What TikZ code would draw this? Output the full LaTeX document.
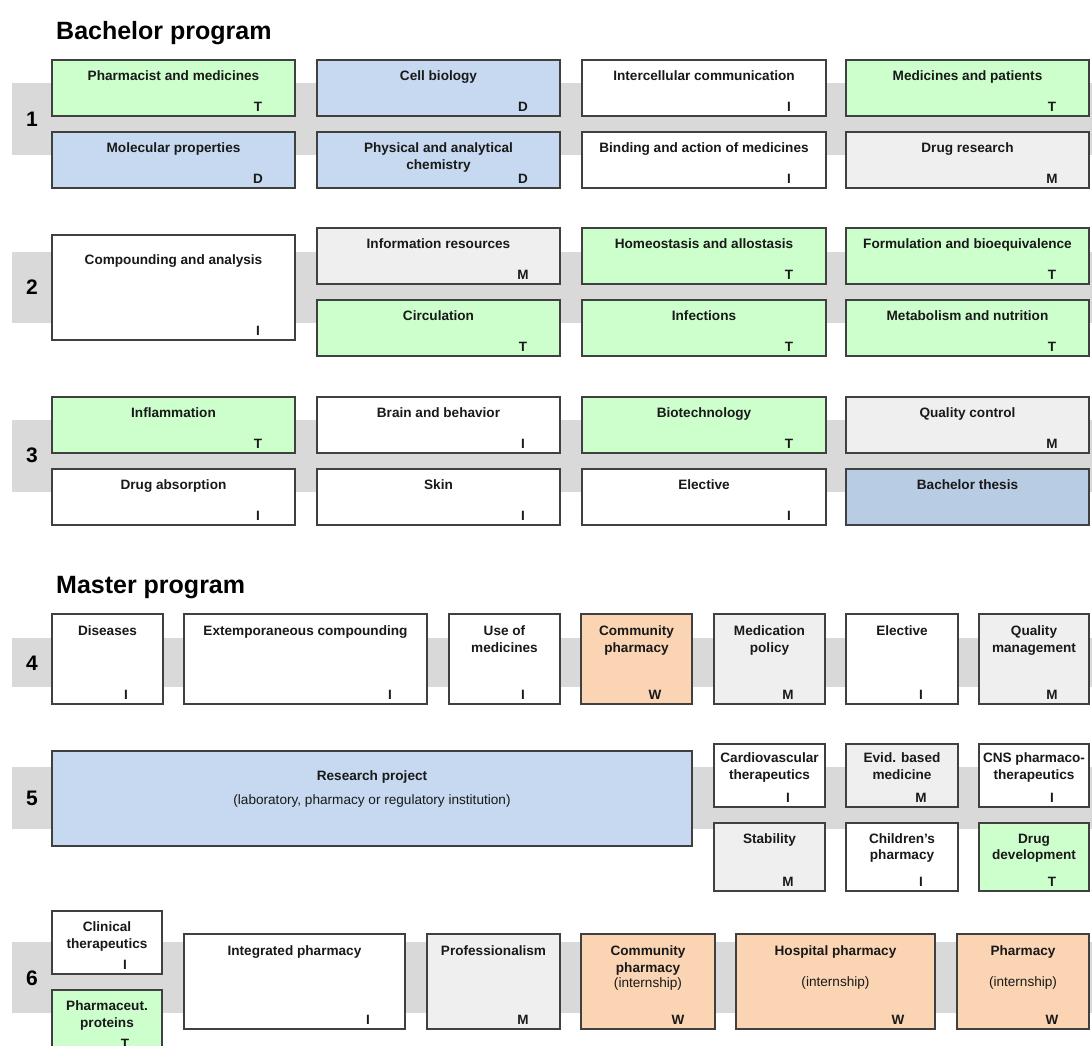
\documentclass[tikz,border=0pt]{standalone}
\usepackage{fontspec}
\setmainfont{Liberation Sans}
\definecolor{cgreen}{HTML}{CCFFCC}
\definecolor{cblue}{HTML}{C6D9F0}
\definecolor{cthesis}{HTML}{B8CCE4}
\definecolor{cgrey}{HTML}{EFEFEF}
\definecolor{corange}{HTML}{FBD4B4}
\definecolor{cband}{HTML}{D9D9D9}
\definecolor{cborder}{HTML}{404040}
\tikzset{
 box/.style={draw=cborder,line width=1.3pt,inner sep=0pt,outer sep=0pt,rectangle},
 ttl/.style={font=\fontsize{13.6}{16.5}\selectfont\bfseries,align=center,inner sep=0pt,anchor=north,text=black!90},
 grade/.style={font=\fontsize{13.5}{16}\selectfont\bfseries,inner sep=0pt,anchor=base,text=black!90},
 band/.style={fill=cband,draw=none},
 num/.style={font=\fontsize{21}{24}\selectfont\bfseries,inner sep=0pt},
 head/.style={font=\fontsize{25}{28}\selectfont\bfseries,inner sep=0pt,anchor=base west},
 fgreen/.style={fill=cgreen},fblue/.style={fill=cblue},fwhite/.style={fill=white},
 fgrey/.style={fill=cgrey},forange/.style={fill=corange},fthesis/.style={fill=cthesis}
}
% name, x1, y1, x2, y2, fill, text, grade, baseline offset
\newcommand\crs[9]{%
 \node[box,#6,minimum width={(#4-#2)*1pt},minimum height={(#5-#3)*1pt}] (#1) at ({(#2+#4)/2},{(#3+#5)/2}) {};
 \node[ttl] (#1-t) at ([yshift={(10-#9)*1pt}]#1.north) {\rule{0pt}{10pt}#7};
 \node[grade] (#1-g) at ([xshift=-37pt,yshift=4.5pt]#1.south east) {#8};
}
\begin{document}
\begin{tikzpicture}[x=1pt,y=-1pt]
\useasboundingbox[fill=white] (0,0) rectangle (1092,1046);
% bands
\fill[band] (12,82.7) rectangle (1092,155);
\fill[band] (12,251.7) rectangle (1092,323.3);
\fill[band] (12,420) rectangle (1092,492);
\fill[band] (12,637.7) rectangle (1092,687.3);
\fill[band] (12,767.3) rectangle (1092,829.3);
\fill[band] (12,941.7) rectangle (1092,1013.3);
% headings
\node[head] (hb) at (56,40) {Bachelor program};
\node[head] (hm) at (56,593) {Master program};
% numbers
\node[num] (n1) at (32,119) {1};
\node[num] (n2) at (32,287) {2};
\node[num] (n3) at (32,455) {3};
\node[num] (n4) at (32,663) {4};
\node[num] (n5) at (32,798) {5};
\node[num] (n6) at (32,978) {6};
% row 1
\crs{pm}{52}{60}{295}{116}{fgreen}{Pharmacist and medicines}{T}{20.7}
\crs{cb}{317}{60}{560}{116}{fblue}{Cell biology}{D}{20.7}
\crs{ic}{582}{60}{826}{116}{fwhite}{Intercellular communication}{I}{20.7}
\crs{mp}{846}{60}{1089}{116}{fgreen}{Medicines and patients}{T}{20.7}
\crs{mol}{52}{132}{295}{188}{fblue}{Molecular properties}{D}{20.7}
\crs{pac}{317}{132}{560}{188}{fblue}{Physical and analytical\\chemistry}{D}{20.7}
\crs{bam}{582}{132}{826}{188}{fwhite}{Binding and action of medicines}{I}{20.7}
\crs{dr}{846}{132}{1089}{188}{fgrey}{Drug research}{M}{20.7}
% row 2
\crs{ca}{52}{235}{295}{340}{fwhite}{Compounding and analysis}{I}{29}
\crs{ir}{317}{228}{560}{284}{fgrey}{Information resources}{M}{20.7}
\crs{ha}{582}{228}{826}{284}{fgreen}{Homeostasis and allostasis}{T}{20.7}
\crs{fb}{846}{228}{1089}{284}{fgreen}{Formulation and bioequivalence}{T}{20.7}
\crs{ci}{317}{300}{560}{356}{fgreen}{Circulation}{T}{20.7}
\crs{inf}{582}{300}{826}{356}{fgreen}{Infections}{T}{20.7}
\crs{mn}{846}{300}{1089}{356}{fgreen}{Metabolism and nutrition}{T}{20.7}
% row 3
\crs{infl}{52}{397}{295}{453}{fgreen}{Inflammation}{T}{20.7}
\crs{bb}{317}{397}{560}{453}{fwhite}{Brain and behavior}{I}{20.7}
\crs{bt}{582}{397}{826}{453}{fgreen}{Biotechnology}{T}{20.7}
\crs{qc}{846}{397}{1089}{453}{fgrey}{Quality control}{M}{20.7}
\crs{da}{52}{469}{295}{525}{fwhite}{Drug absorption}{I}{20.7}
\crs{sk}{317}{469}{560}{525}{fwhite}{Skin}{I}{20.7}
\crs{el}{582}{469}{826}{525}{fwhite}{Elective}{I}{20.7}
\crs{bth}{846}{469}{1089}{525}{fthesis}{Bachelor thesis}{}{20.7}
% row 4
\crs{dis}{52}{614}{163}{704}{fwhite}{Diseases}{I}{21.5}
\crs{ext}{184}{614}{427}{704}{fwhite}{Extemporaneous compounding}{I}{21.5}
\crs{uom}{449}{614}{560}{704}{fwhite}{Use of\\medicines}{I}{21.5}
\crs{cp}{581}{614}{692}{704}{forange}{Community\\pharmacy}{W}{21.5}
\crs{medp}{714}{614}{825}{704}{fgrey}{Medication\\policy}{M}{21.5}
\crs{el4}{846}{614}{958}{704}{fwhite}{Elective}{I}{21.5}
\crs{qm}{979}{614}{1089}{704}{fgrey}{Quality\\management}{M}{21.5}
% row 5
\node[box,fblue,minimum width=640pt,minimum height=95pt] (rp) at (372,798.5) {};
\node[ttl] (rp-t) at ([yshift=-19.7pt]rp.north) {\rule{0pt}{10pt}Research project\\[7.5pt]{\mdseries (laboratory, pharmacy or regulatory institution)}};
\crs{cvt}{714}{744}{825}{807}{fwhite}{Cardiovascular\\therapeutics}{I}{18.5}
\crs{ebm}{846}{744}{958}{807}{fgrey}{Evid. based\\medicine}{M}{18.5}
\crs{cns}{979}{744}{1089}{807}{fwhite}{CNS pharmaco-\\therapeutics}{I}{18.5}
\crs{stab}{714}{823}{825}{891}{fgrey}{Stability}{M}{20}
\crs{chp}{846}{823}{958}{891}{fwhite}{Children\char"27 s\\pharmacy}{I}{20}
\crs{dd}{979}{823}{1089}{891}{fgreen}{Drug\\development}{T}{20}
% row 6
\crs{clt}{52}{911}{162}{974}{fwhite}{Clinical\\therapeutics}{I}{20.3}
\crs{pp}{52}{990}{162}{1053}{fgreen}{Pharmaceut.\\proteins}{T}{20.3}
\crs{ip}{184}{934}{405}{1029}{fwhite}{Integrated pharmacy}{I}{21.3}
\crs{prof}{427}{934}{560}{1029}{fgrey}{Professionalism}{M}{21.3}
\crs{cpi}{581}{934}{715}{1029}{forange}{Community\\pharmacy\\[-1pt]{\mdseries (internship)}}{W}{21.3}
\crs{hp}{736}{934}{935}{1029}{forange}{Hospital pharmacy\\[14.5pt]{\mdseries (internship)}}{W}{21.3}
\crs{ph}{957}{934}{1089}{1029}{forange}{Pharmacy\\[14.5pt]{\mdseries (internship)}}{W}{21.3}
\end{tikzpicture}
\end{document}
